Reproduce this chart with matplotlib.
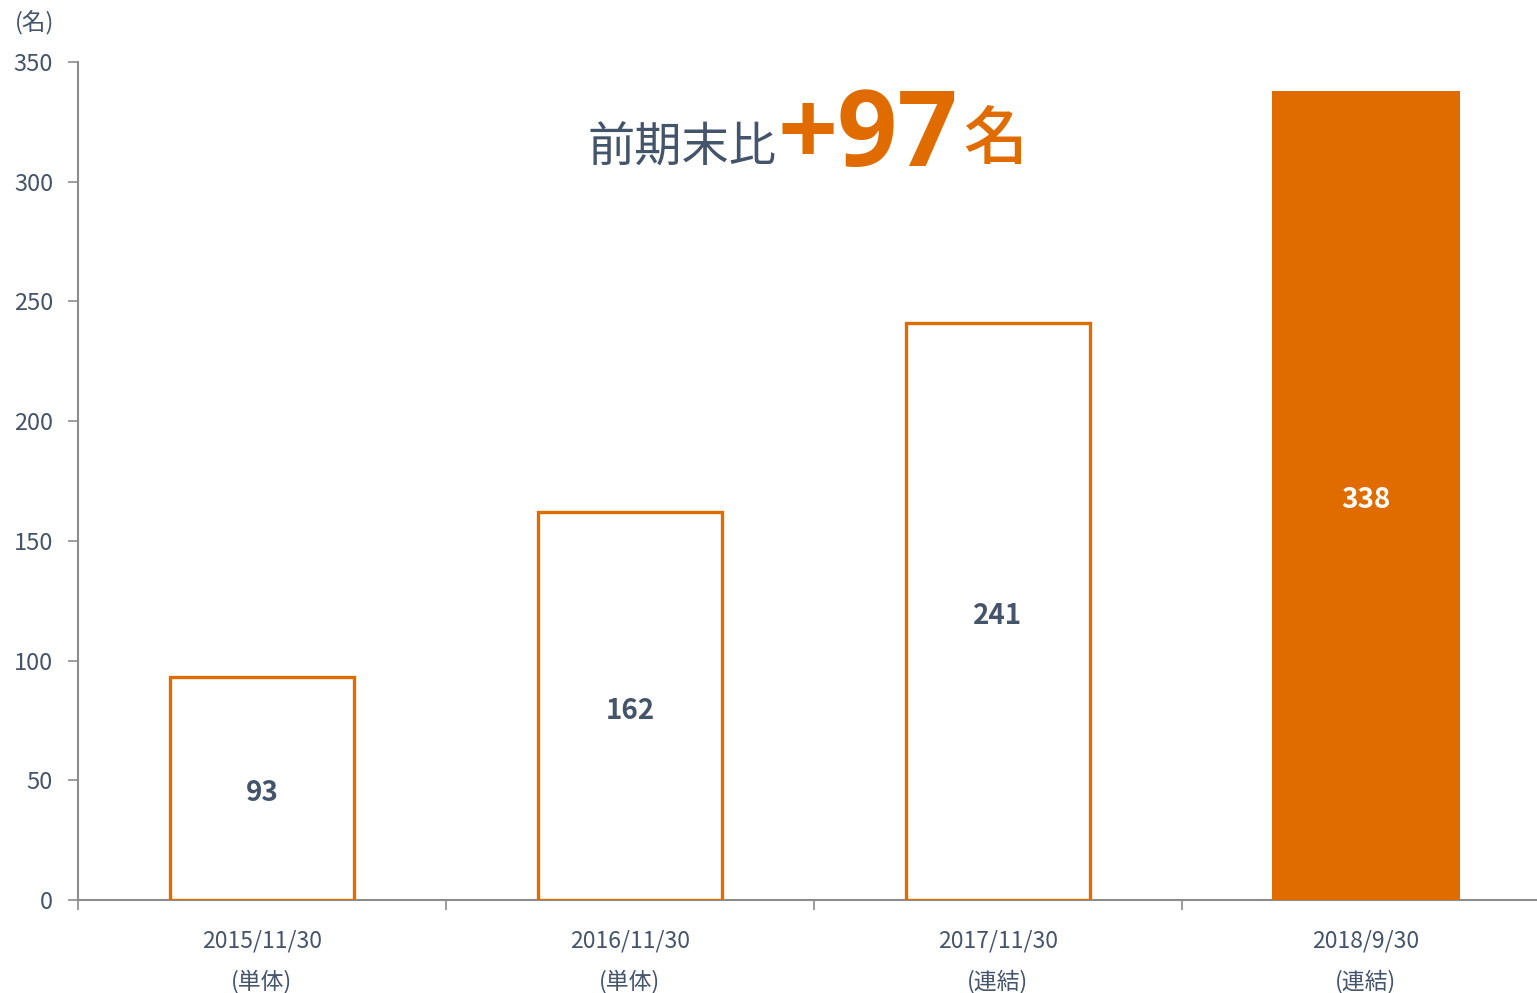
import matplotlib
matplotlib.use("Agg")
import matplotlib.pyplot as plt

plt.rcParams['font.family'] = ['Noto Sans CJK JP', 'DejaVu Sans']

categories = ["2015/11/30\n(単体)", "2016/11/30\n(単体)", "2017/11/30\n(連結)", "2018/9/30\n(連結)"]
values = [93, 162, 241, 338]
filled = [False, False, False, True]
yticks = [0, 50, 100, 150, 200, 250, 300, 350]

ORANGE = "#E06C00"
TEXT = "#44546A"
AXIS = "#8C8C8C"

fig = plt.figure(figsize=(15.37, 9.93), dpi=100)
ax = fig.add_axes([78/1537, 93/993, 1 - 78/1537, (900-62)/993])

x = list(range(len(values)))
for xi, v, f in zip(x, values, filled):
    if f:
        ax.bar(xi, v, width=0.51, color=ORANGE, edgecolor=ORANGE, linewidth=0, zorder=3)
        ax.text(xi, v/2 - 2, str(v), ha='center', va='center', fontsize=20,
                color='white', fontweight='bold', zorder=4)
    else:
        ax.bar(xi, v, width=0.5, facecolor='white', edgecolor=ORANGE, linewidth=2.4, zorder=3)
        ax.text(xi, v/2 - 2, str(v), ha='center', va='center', fontsize=20,
                color=TEXT, fontweight='bold', zorder=4)

ax.set_xlim(-0.5, 3.465)
ax.set_ylim(0, 350)
ax.set_yticks(yticks)
ax.set_yticklabels([str(t) for t in yticks], fontsize=17, color=TEXT)
ax.set_xticks([i - 0.5 for i in range(len(values))])
ax.set_xticklabels([])
for xi, lab in zip(x, categories):
    l1, l2 = lab.split("\n")
    ax.text(xi, -17, l1, ha='center', va='center', fontsize=16.5, color=TEXT,
            transform=ax.transData, clip_on=False)
    ax.text(xi, -34, l2, ha='center', va='center', fontsize=16.5, color=TEXT,
            transform=ax.transData, clip_on=False)

for s in ['top', 'right']:
    ax.spines[s].set_visible(False)
for s in ['left', 'bottom']:
    ax.spines[s].set_color(AXIS)
    ax.spines[s].set_linewidth(1.5)
ax.tick_params(axis='both', direction='out', length=7, width=1.2, color=AXIS, pad=11)
ax.tick_params(axis='x', pad=2)

fig.text(15/1537, 1 - 22/993, "(名)", ha='left', va='center', fontsize=17, color=TEXT)

# annotation
fig.text(587/1537, 1 - 148/993, "前期末比", ha='left', va='center', fontsize=34, color=TEXT)
fig.text(778/1537, 1 - 166/993, "+97", ha='left', va='baseline', fontsize=76,
         color=ORANGE, fontweight='bold', family=['Open Sans'])
fig.text(963/1537, 1 - 140/993, "名", ha='left', va='center', fontsize=46,
         color=ORANGE, fontweight='medium')

fig.savefig("out.png", dpi=100)
